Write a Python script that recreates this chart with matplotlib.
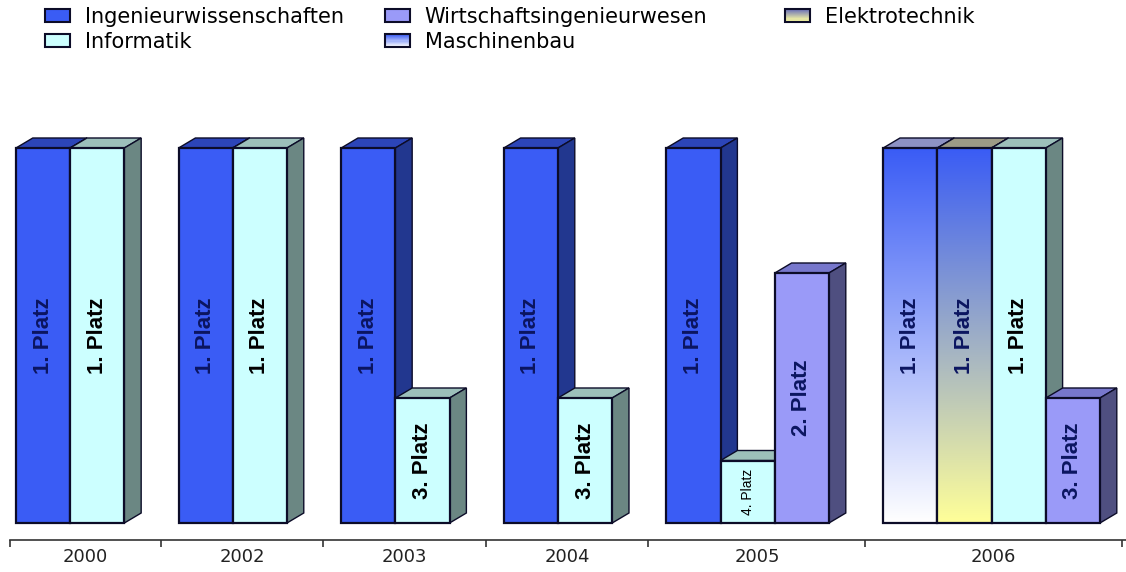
import numpy as np
import matplotlib.pyplot as plt
from matplotlib.patches import Rectangle, Polygon, Patch
from matplotlib.colors import to_rgb
from matplotlib.legend_handler import HandlerBase

years = ["2000", "2002", "2003", "2004", "2005", "2006"]
group_series = [
    ["Ingenieurwissenschaften", "Informatik"],
    ["Ingenieurwissenschaften", "Informatik"],
    ["Ingenieurwissenschaften", "Informatik"],
    ["Ingenieurwissenschaften", "Informatik"],
    ["Ingenieurwissenschaften", "Informatik", "Wirtschaftsingenieurwesen"],
    ["Maschinenbau", "Elektrotechnik", "Informatik", "Wirtschaftsingenieurwesen"],
]
group_heights = [[6, 6], [6, 6], [6, 2], [6, 2], [6, 1, 4], [6, 6, 6, 2]]
group_ranks = [[1, 1], [1, 1], [1, 3], [1, 3], [1, 4, 2], [1, 1, 1, 3]]
# legend columns as laid out in the chart
legend_columns = [["Ingenieurwissenschaften", "Informatik"],
                  ["Wirtschaftsingenieurwesen", "Maschinenbau"],
                  ["Elektrotechnik"]]

# front top colour, front bottom colour, top face, side face, label colour
STYLE = {
    "Ingenieurwissenschaften": ("#3a5cf5", "#3a5cf5", "#2c45b8", "#22378f", "#0b1560"),
    "Informatik": ("#ccffff", "#ccffff", "#9cbfba", "#6b8783", "#000000"),
    "Wirtschaftsingenieurwesen": ("#9a9af8", "#9a9af8", "#7777cc", "#4f4f80", "#0b1560"),
    "Maschinenbau": ("#3a5cf5", "#ffffff", "#8d92c4", "#5a5f90", "#0b1560"),
    "Elektrotechnik": ("#3a5cf5", "#ffff99", "#9c9a86", "#6a6850", "#0b1560"),
}
LEGEND_GRAD = {"Maschinenbau": ("#3a5cf5", "#ffffff"), "Elektrotechnik": ("#6a70b8", "#ffffa0")}
EDGE = "#0c0c28"
DX, DY = 0.31, 0.16


def gradient(c_top, c_bot, n=256):
    a, b = np.array(to_rgb(c_top)), np.array(to_rgb(c_bot))
    f = np.linspace(0, 1, n)[:, None]
    return (a * (1 - f) + b * f)[:, None, :]


def draw_bar(ax, x, h, name, label, z):
    ft, fb, tp, sd, tc = STYLE[name]
    ax.add_patch(Polygon([(x, h), (x + 1, h), (x + 1 + DX, h + DY), (x + DX, h + DY)],
                         closed=True, fc=tp, ec=EDGE, lw=1, zorder=z))
    ax.add_patch(Polygon([(x + 1, 0), (x + 1 + DX, DY), (x + 1 + DX, h + DY), (x + 1, h)],
                         closed=True, fc=sd, ec=EDGE, lw=1, zorder=z))
    if ft == fb:
        ax.add_patch(Rectangle((x, 0), 1, h, fc=ft, ec=EDGE, lw=1.6, zorder=z))
    else:
        ax.imshow(gradient(ft, fb), extent=(x, x + 1, 0, h), aspect="auto",
                  origin="upper", zorder=z, interpolation="bilinear")
        ax.add_patch(Rectangle((x, 0), 1, h, fc="none", ec=EDGE, lw=1.6, zorder=z))
    small = label.startswith("4")
    ax.text(x + 0.5, h / 2, label, rotation=90, ha="center", va="center",
            fontsize=10 if small else 16, fontweight="normal" if small else "bold",
            family="Liberation Sans", color=tc, zorder=z + 0.5)


class GradientHandler(HandlerBase):
    def __init__(self, c_top, c_bot):
        super().__init__()
        self.c_top, self.c_bot = c_top, c_bot

    def create_artists(self, legend, orig_handle, xdescent, ydescent, width, height, fontsize, trans):
        arts = []
        n = 12
        cols = gradient(self.c_top, self.c_bot, n)[:, 0, :]
        for i in range(n):
            r = Rectangle((-xdescent, -ydescent + height * (1 - (i + 1) / n)), width, height / n + 0.3,
                          fc=cols[i], ec="none", transform=trans)
            arts.append(r)
        arts.append(Rectangle((-xdescent, -ydescent), width, height, fc="none", ec=EDGE, lw=1.5, transform=trans))
        return arts


fig = plt.figure(figsize=(11.26, 5.72), dpi=100)
ax = fig.add_axes([10 / 1126, 32 / 572, 1116 / 1126, 420 / 572])

x = 0
starts = []
z = 2
for names, heights, ranks in zip(group_series, group_heights, group_ranks):
    starts.append(x)
    for name, h, r in zip(names, heights, ranks):
        draw_bar(ax, x, h, name, f"{r}. Platz", z)
        x += 1
        z += 1
    x += 1

xmax = (1126 - 16) / 54.2
bounds = [-0.11] + [s - 0.33 for s in starts[1:]] + [xmax - 0.08]
centers = [(a + b) / 2 for a, b in zip(bounds[:-1], bounds[1:])]

ax.set_xlim(-0.11, xmax)
ax.set_ylim(-(540 - 523) / 62.5, (523 - 120) / 62.5)
for s in ["top", "left", "right"]:
    ax.spines[s].set_visible(False)
ax.spines["bottom"].set_color("#333333")
ax.spines["bottom"].set_linewidth(1.2)
ax.set_yticks([])
ax.set_xticks(bounds)
ax.set_xticklabels([])
ax.tick_params(axis="x", which="major", length=5, width=1.2, color="#333333", direction="out")
ax.set_xticks(centers, minor=True)
ax.set_xticklabels(years, minor=True, fontsize=13, color="#222222")
ax.tick_params(axis="x", which="minor", length=0, pad=6)

for col, x_px in zip(legend_columns, [45, 385, 785]):
    handles = []
    handler_map = {}
    for name in col:
        p = Patch(fc=STYLE[name][0], ec=EDGE, lw=1.5, label=name)
        handles.append(p)
        if name in LEGEND_GRAD:
            handler_map[p] = GradientHandler(*LEGEND_GRAD[name])
    fig.legend(handles=handles, handler_map=handler_map, loc="upper left",
               bbox_to_anchor=(x_px / 1126, 1 - 7 / 572), frameon=False, fontsize=15,
               handlelength=1.2, handleheight=0.58, handletextpad=0.7,
               labelspacing=0.25, borderpad=0, borderaxespad=0)

fig.savefig("out.png", dpi=100, facecolor="white")
